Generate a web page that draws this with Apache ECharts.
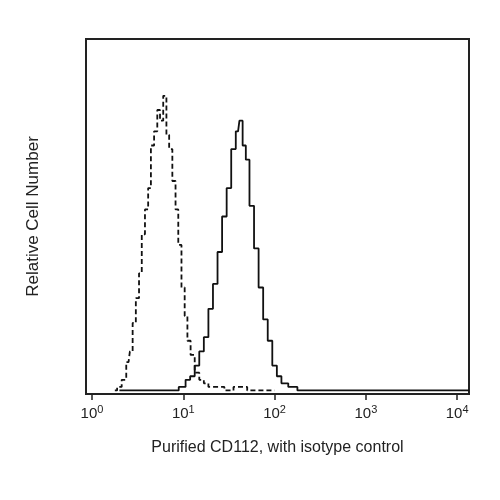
<!DOCTYPE html><html><head><meta charset="utf-8"><script src="https://cdn.jsdelivr.net/npm/echarts@6/dist/echarts.min.js"></script></head><body style="margin:0"><div id="c" style="width:500px;height:500px"></div><script>
// log10 fluorescence, relative counts
const isoX=[0.25,0.3,0.35,0.4,0.43,0.46,0.5,0.53,0.56,0.6,0.63,0.66,0.7,0.73,0.76,0.8,0.83,0.86,0.9,0.93,0.96,1.0,1.03,1.06,1.1,1.15,1.2,1.25,1.3,1.4,1.5,1.6,1.8,2.0];
const isoY=[1,2,4,9,12,20,27,34,45,52,58,70,74,80,77,84,73,69,60,52,42,30,22,15,11,6,4,3,2,2,1,2,1,1];
const cdX=[0.3,0.6,0.9,1.0,1.05,1.1,1.15,1.2,1.25,1.3,1.35,1.4,1.45,1.5,1.55,1.6,1.63,1.67,1.7,1.75,1.8,1.85,1.9,1.95,2.0,2.05,2.1,2.2,2.3,2.6,3.0,3.5,4.13];
const cdY=[1,1,1,2,4,5,8,12,16,24,31,40,50,58,69,74,77,70,66,53,41,30,21,15,8,5,3,2,1,1,1,1,1];
const tickVals=[0,1,2,3,4];
const c=echarts.init(document.getElementById('c'));
const f='Liberation Sans';
c.setOption({animation:false,
grid:{left:86,right:31,top:39,bottom:106,show:true,borderColor:'#222',borderWidth:2},
xAxis:{type:'value',min:-0.066,max:4.13,splitLine:{show:false},axisLine:{show:false},
 axisTick:{show:true,customValues:tickVals,length:6,lineStyle:{color:'#222',width:1.5}},
 axisLabel:{customValues:tickVals,margin:10,fontFamily:f,formatter:v=>'{b|10}{s|'+v+'}',rich:{b:{fontSize:15,color:'#222',fontFamily:f},s:{fontSize:11,color:'#222',fontFamily:f,verticalAlign:'top',padding:[0,0,8,0]}}},
 name:'Purified CD112, with isotype control',nameLocation:'middle',nameGap:46,nameTextStyle:{fontSize:16,color:'#222',fontFamily:f}},
yAxis:{type:'value',min:0,max:100,axisLabel:{show:false},axisTick:{show:false},splitLine:{show:false},axisLine:{show:false},
 name:'Relative Cell Number',nameLocation:'middle',nameGap:44,nameTextStyle:{fontSize:17,color:'#222',fontFamily:f}},
series:[
{type:'line',step:'middle',showSymbol:false,data:isoX.map((x,i)=>[x,isoY[i]]),lineStyle:{color:'#111',width:1.8,type:[5,3]}},
{type:'line',step:'middle',showSymbol:false,data:cdX.map((x,i)=>[x,cdY[i]]),lineStyle:{color:'#111',width:1.8}}
]});
</script></body></html>
